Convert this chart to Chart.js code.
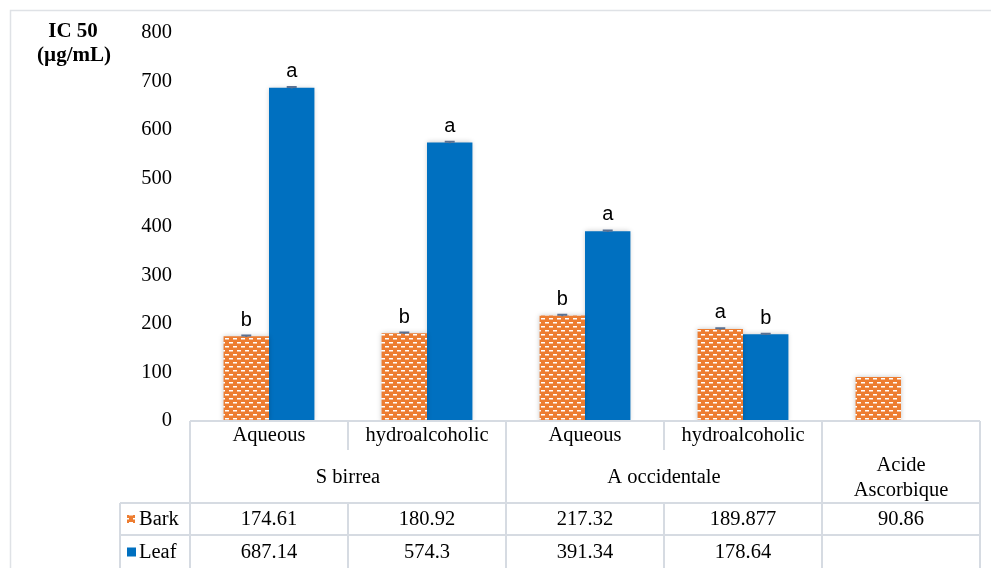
<!DOCTYPE html>
<html>
<head>
<meta charset="utf-8">
<script src="https://cdn.jsdelivr.net/npm/chart.js@4.4.1/dist/chart.umd.min.js"></script>
<style>
  html, body { margin: 0; padding: 0; background: #fff; }
  #wrap { width: 991px; height: 568px; position: relative; }
</style>
</head>
<body>
<div id="wrap"><canvas id="c" width="991" height="568"></canvas></div>
<script>
// ---- data ----
const categories = ["Aqueous", "hydroalcoholic", "Aqueous", "hydroalcoholic", ""];
const groups = ["S birrea", "A occidentale", ["Acide", "Ascorbique"]];
const groupSpans = [2, 2, 1];
const barkValues = [174.61, 180.92, 217.32, 189.877, 90.86];
const leafValues = [687.14, 574.3, 391.34, 178.64, null];
const barkErrors = [1.5, 1.5, 1.5, 1.5, null];
const leafErrors = [1.5, 1.5, 1.5, 1.5, null];
const barkLetters = ["b", "b", "b", "a", ""];
const leafLetters = ["a", "a", "a", "b", ""];
const yTicks = [0, 100, 200, 300, 400, 500, 600, 700, 800];
const yTitle = ["IC 50", "(µg/mL)"];
const seriesNames = ["Bark", "Leaf"];

const ORANGE = "#ED7D31";
const BLUE = "#0070C0";
const GRID = "#d6dbe2";
const SERIF = "'Liberation Serif', 'Times New Roman', serif";
const SANS = "'Liberation Sans', Arial, sans-serif";
const TFONT = "20.5px " + SERIF;

function makePattern() {
  const t = document.createElement("canvas");
  t.width = 8; t.height = 8;
  const g = t.getContext("2d");
  g.fillStyle = ORANGE; g.fillRect(0, 0, 8, 8);
  g.fillStyle = "#ffffff";
  g.fillRect(1, 2, 4, 1.5);
  g.fillRect(5, 6, 3, 1.5);
  g.fillRect(0, 6, 1, 1.5);
  return document.getElementById("c").getContext("2d").createPattern(t, "repeat");
}
const barkPattern = makePattern();

const extrasPlugin = {
  id: "extras",
  beforeDatasetsDraw(chart) {
    const ctx = chart.ctx;
    ctx.save();
    ctx.shadowColor = "rgba(0,0,0,0.22)";
    ctx.shadowBlur = 5;
  },
  afterDatasetsDraw(chart) {
    const ctx = chart.ctx;
    ctx.restore();
    const y = chart.scales.y;
    const errs = [barkErrors, leafErrors];
    const vals = [barkValues, leafValues];
    const letters = [barkLetters, leafLetters];
    [0, 1].forEach(di => {
      const meta = chart.getDatasetMeta(di);
      meta.data.forEach((bar, i) => {
        const v = vals[di][i];
        if (v == null) return;
        const e = errs[di][i];
        let topY = y.getPixelForValue(v);
        if (e != null) {
          const ey = y.getPixelForValue(v + e);
          ctx.save();
          ctx.strokeStyle = "#5b7191";
          ctx.lineWidth = 2;
          ctx.beginPath();
          ctx.moveTo(bar.x - 5, ey); ctx.lineTo(bar.x + 5, ey);
          ctx.moveTo(bar.x, y.getPixelForValue(v - e)); ctx.lineTo(bar.x, ey);
          ctx.stroke();
          ctx.restore();
          topY = ey;
        }
        if (letters[di][i]) {
          ctx.save();
          ctx.fillStyle = "#000";
          ctx.font = "20px " + SANS;
          ctx.textAlign = "center";
          ctx.textBaseline = "alphabetic";
          ctx.fillText(letters[di][i], bar.x, topY - 10);
          ctx.restore();
        }
      });
    });
  },
  afterDraw(chart) {
    const ctx = chart.ctx;
    const ca = chart.chartArea;
    const x = chart.scales.x;
    const n = categories.length;
    const cw = (ca.right - ca.left) / n;
    const edge = i => ca.left + cw * i;
    const r1 = ca.bottom, r2 = ca.bottom + 29, r3 = ca.bottom + 82, r4 = ca.bottom + 114, r5 = 568;
    const legendLeft = 120;

    ctx.save();
    // outer frame
    ctx.strokeStyle = "#dfe2e6";
    ctx.lineWidth = 1.5;
    ctx.beginPath();
    ctx.moveTo(10.5, 568); ctx.lineTo(10.5, 10.5); ctx.lineTo(991, 10.5);
    ctx.stroke();

    // table grid
    ctx.strokeStyle = GRID;
    ctx.lineWidth = 2;
    ctx.beginPath();
    ctx.moveTo(ca.left, r1); ctx.lineTo(ca.right, r1);
    ctx.moveTo(legendLeft, r3); ctx.lineTo(ca.right, r3);
    ctx.moveTo(legendLeft, r4); ctx.lineTo(ca.right, r4);
    ctx.moveTo(ca.left, r1); ctx.lineTo(ca.left, r5);
    ctx.moveTo(ca.right, r1); ctx.lineTo(ca.right, r5);
    ctx.moveTo(legendLeft, r3); ctx.lineTo(legendLeft, r5);
    let acc = 0;
    const groupEdges = new Set();
    groupSpans.forEach(s => { acc += s; groupEdges.add(acc); });
    for (let i = 1; i < n; i++) {
      const xx = edge(i);
      if (groupEdges.has(i)) { ctx.moveTo(xx, r1); ctx.lineTo(xx, r5); }
      else { ctx.moveTo(xx, r1); ctx.lineTo(xx, r2); ctx.moveTo(xx, r3); ctx.lineTo(xx, r5); }
    }
    ctx.stroke();

    // texts
    ctx.fillStyle = "#000";
    ctx.font = TFONT;
    ctx.textAlign = "center";
    ctx.textBaseline = "middle";
    categories.forEach((c, i) => {
      if (c) ctx.fillText(c, x.getPixelForValue(i), r1 + 15);
    });
    let start = 0;
    groups.forEach((g, gi) => {
      const cx = (edge(start) + edge(start + groupSpans[gi])) / 2;
      const cy = (r2 + r3) / 2;
      if (Array.isArray(g)) {
        ctx.fillText(g[0], cx, cy - 11);
        ctx.fillText(g[1], cx, cy + 14);
      } else ctx.fillText(g, cx, cy + 1);
      start += groupSpans[gi];
    });
    const rows = [[barkValues, r3, r4], [leafValues, r4, r5 + 1]];
    rows.forEach(([vals, a, b]) => {
      vals.forEach((v, i) => {
        if (v != null) ctx.fillText(String(v), x.getPixelForValue(i), (a + b) / 2 + 1);
      });
    });
    // legend keys
    ctx.textAlign = "left";
    ctx.fillStyle = barkPattern;
    ctx.fillRect(127, (r3 + r4) / 2 - 4, 8, 8);
    ctx.fillStyle = BLUE;
    ctx.fillRect(127, (r4 + r5) / 2 - 4, 9, 9);
    ctx.fillStyle = "#000";
    ctx.fillText(seriesNames[0], 139, (r3 + r4) / 2 + 1);
    ctx.fillText(seriesNames[1], 139, (r4 + r5) / 2 + 1);

    // y-axis title
    ctx.font = "bold 21px " + SERIF;
    ctx.textAlign = "center";
    ctx.fillText(yTitle[0], 73, 32);
    ctx.fillText(yTitle[1], 74, 56);
    ctx.restore();
  }
};

new Chart(document.getElementById("c"), {
  type: "bar",
  data: {
    labels: categories,
    datasets: [
      { label: seriesNames[0], data: barkValues, backgroundColor: barkPattern, borderWidth: 0 },
      { label: seriesNames[1], data: leafValues, backgroundColor: BLUE, borderWidth: 0 }
    ]
  },
  options: {
    responsive: false,
    animation: false,
    events: [],
    layout: { padding: { top: 33, right: 11, bottom: 147, left: 0 } },
    datasets: { bar: { categoryPercentage: 0.575, barPercentage: 1 } },
    plugins: { legend: { display: false }, tooltip: { enabled: false } },
    scales: {
      x: { display: false },
      y: {
        min: 0, max: 800,
        afterFit(s) { s.width = 190; },
        afterBuildTicks(s) { s.ticks = yTicks.map(v => ({ value: v })); },
        grid: { display: false, drawTicks: false },
        border: { display: false },
        ticks: { padding: 18, color: "#000", font: { family: SERIF, size: 20.5 } }
      }
    }
  },
  plugins: [extrasPlugin]
});
</script>
</body>
</html>
